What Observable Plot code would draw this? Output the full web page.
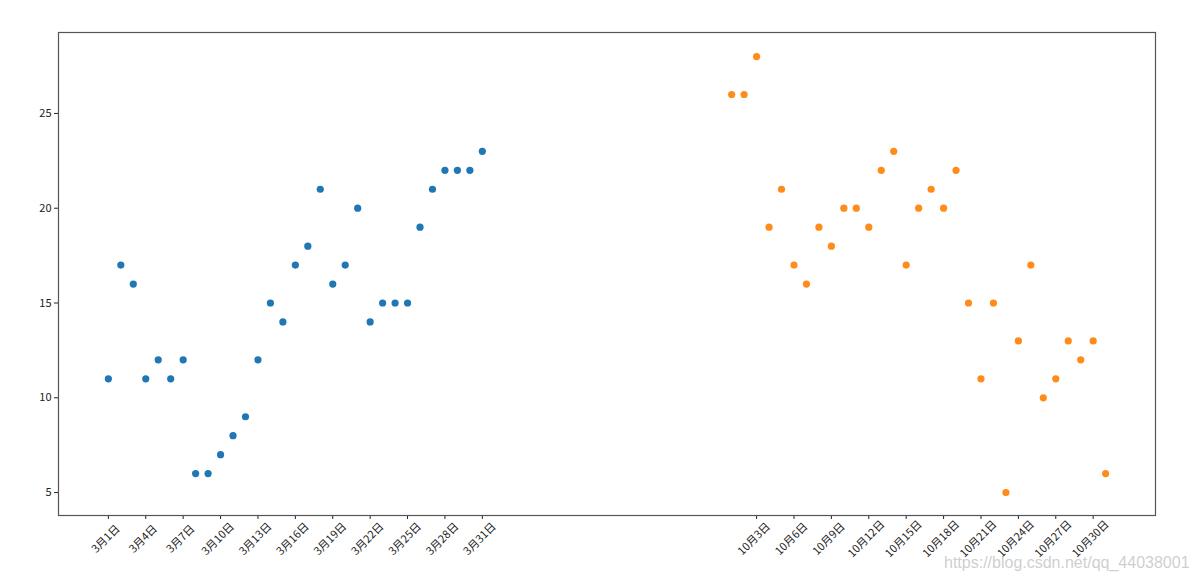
<!DOCTYPE html>
<html>
<head>
<meta charset="utf-8">
<script src="https://cdn.jsdelivr.net/npm/d3@7"></script>
<script src="https://cdn.jsdelivr.net/npm/@observablehq/plot@0.6"></script>
<style>
  html, body { margin: 0; padding: 0; background: #fff; }
  #wrap { position: relative; width: 1193px; height: 582px; }
  #wm { position: absolute; left: 944px; top: 554px; font-family: "Liberation Sans", Arial, sans-serif; font-size: 16px; color: rgba(190,190,190,0.75); white-space: nowrap; }
</style>
</head>
<body>
<div id="wrap"><div id="chart"></div><div id="wm">https://blog.csdn.net/qq_44038001</div></div>
<script>
// March (3月) day positions and temperatures
const marchX = [1,2,3,4,5,6,7,8,9,10,11,12,13,14,15,16,17,18,19,20,21,22,23,24,25,26,27,28,29,30,31];
const marchTemp = [11,17,16,11,12,11,12,6,6,7,8,9,12,15,14,17,18,21,16,17,20,14,15,15,15,19,21,22,22,22,23];
// October (10月) day positions and temperatures
const octX = [51,52,53,54,55,56,57,58,59,60,61,62,63,64,65,66,67,68,69,70,71,72,73,74,75,76,77,78,79,80,81];
const octTemp = [26,26,28,19,21,17,16,19,18,20,20,19,22,23,17,20,21,20,22,15,11,15,5,13,17,10,11,13,12,13,6];
// Tick positions and labels
const xTickValues = [1,4,7,10,13,16,19,22,25,28,31,53,56,59,62,65,68,71,74,77,80];
const xTickLabels = ["3月1日","3月4日","3月7日","3月10日","3月13日","3月16日","3月19日","3月22日","3月25日","3月28日","3月31日",
  "10月3日","10月6日","10月9日","10月12日","10月15日","10月18日","10月21日","10月24日","10月27日","10月30日"];
const yTickValues = [5,10,15,20,25];

const march = marchX.map((x, i) => ({x, y: marchTemp[i]}));
const october = octX.map((x, i) => ({x, y: octTemp[i]}));
const xTicks = xTickValues.map((x, i) => ({x, label: xTickLabels[i]}));

const chart = Plot.plot({
  width: 1193,
  height: 582,
  marginLeft: 58,
  marginRight: 38,
  marginTop: 32,
  marginBottom: 67,
  style: { fontFamily: "'Noto Sans CJK SC', 'DejaVu Sans', sans-serif", fontSize: "11px", color: "#222", background: "#fff" },
  x: { domain: [-3, 85], label: null },
  y: { domain: [3.79, 29.27], label: null },
  marks: [
    Plot.axisY({ ticks: yTickValues, tickSize: 4, tickPadding: 3, label: null, fontSize: 11 }),
    Plot.axisX({ ticks: xTickValues, tickSize: 4, tickFormat: () => "", label: null }),
    Plot.text(xTicks, { x: "x", text: "label", frameAnchor: "bottom", dy: 26, rotate: -45, textAnchor: "middle", fontSize: 11, fill: "#222" }),
    Plot.frame({ stroke: "#555", strokeWidth: 1.2 }),
    Plot.dot(march, { x: "x", y: "y", r: 3.6, fill: "#1f77b4", stroke: "none" }),
    Plot.dot(october, { x: "x", y: "y", r: 3.6, fill: "#ff8c1a", stroke: "none" })
  ]
});
document.getElementById("chart").appendChild(chart);
</script>
</body>
</html>
